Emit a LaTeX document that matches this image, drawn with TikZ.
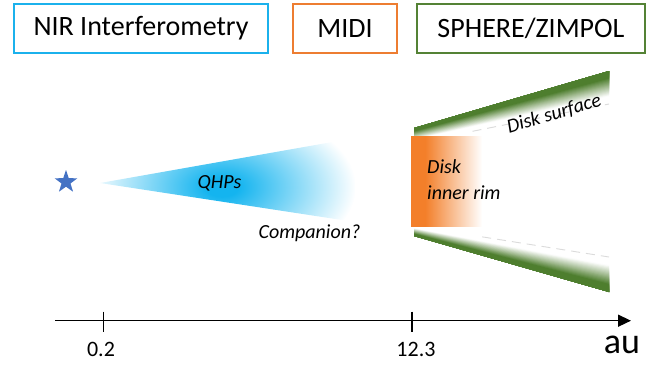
\documentclass[tikz,border=0pt]{standalone}
\usepackage{fontspec}
\setmainfont{Carlito}
\usetikzlibrary{arrows.meta,shapes.geometric,calc}
\definecolor{nircyan}{HTML}{1BB1EC}
\definecolor{midiorange}{HTML}{ED7D31}
\definecolor{spheregreen}{HTML}{548235}
\definecolor{qcyan}{HTML}{14B4EF}
\definecolor{rimorange}{HTML}{F37F2A}
\definecolor{bandgreen}{HTML}{4E7E2E}
\definecolor{starblue}{HTML}{4472C4}
\pgfdeclareradialshading{qhpshade}{\pgfpoint{0bp}{0bp}}{color(0bp)=(qcyan); color(3bp)=(qcyan); color(25bp)=(white); color(50bp)=(white)}
\pgfdeclarehorizontalshading{rimshade}{100bp}{color(0bp)=(rimorange); color(35bp)=(rimorange); color(75bp)=(white); color(100bp)=(white)}
\tikzset{
  instbox/.style={draw=#1, line width=2pt, minimum height=49pt, inner sep=0pt, font=\fontsize{28}{34}\selectfont},
  itlabel/.style={font=\fontsize{20}{24}\selectfont\itshape, inner sep=0pt},
  axlabel/.style={font=\fontsize{22}{26}\selectfont, inner sep=0pt},
  axisline/.style={line width=1.5pt, -{Triangle[length=13pt,width=12pt]}},
  tickline/.style={line width=1.2pt},
  fadeedge/.style={gray!28, line width=0.9pt, dash pattern=on 9pt off 6pt}
}
\begin{document}
\begin{tikzpicture}[x=1pt,y=-1pt]
\useasboundingbox (0,0) rectangle (665,365);
% instrument boxes
\node[instbox=nircyan, minimum width=254pt] (nir) at (141,28.5) {NIR Interferometry};
\node[instbox=midiorange, minimum width=104pt] (midi) at (345,28.5) {MIDI};
\node[instbox=spheregreen, minimum width=228pt] (sphere) at (531,28.5) {SPHERE/ZIMPOL};
% star
\node[star, star points=5, star point ratio=2.55, fill=starblue, minimum size=24pt, inner sep=0pt] (star) at (66,182) {};
% QHP cone
\coordinate (qtip) at (100,183);
\coordinate (qtop) at (355,138);
\coordinate (qbot) at (355,222);
\begin{scope}
  \clip (qtip) -- (qtop) -- (qbot) -- cycle;
  \shade[shading=qhpshade] (222,187) ellipse (134 and 80);
\end{scope}
\node[itlabel, anchor=base] (qhps) at (219.5,188) {QHPs};
\node[itlabel, anchor=base] (comp) at (309.5,238.3) {Companion?};
% disk bands
\coordinate (uTL) at (414,128);
\coordinate (uTR) at (609,71);
\coordinate (uBL) at (414,143);
\coordinate (uBR) at (609,104);
\coordinate (lBL) at (414,236);
\coordinate (lBR) at (609,292);
\coordinate (lTL) at (414,226);
\coordinate (lTR) at (609,257);
\foreach \k in {30,29,...,1}{
  \pgfmathsetmacro\t{\k/30}
  \pgfmathtruncatemacro\p{max(0,min(100,100*(0.78-\t)/0.55))}
  \fill[bandgreen!\p!white] (uTL) -- (uTR) -- ($(uTR)!\t!(uBR)$) -- ($(uTL)!\t!(uBL)$) -- cycle;
  \fill[bandgreen!\p!white] (lBL) -- (lBR) -- ($(lBR)!\t!(lTR)$) -- ($(lBL)!\t!(lTL)$) -- cycle;
}
\draw[fadeedge] ($(uBL)!0.3!(uBR)$) -- (uBR);
\draw[fadeedge] ($(lTL)!0.35!(lTR)$) -- (lTR);
% inner rim
\shade[shading=rimshade] (411,136) rectangle (482,226);
\node[itlabel, anchor=base west] (rimA) at (427,173) {Disk};
\node[itlabel, anchor=base west] (rimB) at (427,199) {inner rim};
\node[itlabel, rotate=16.5] (surf) at (554,114) {Disk surface};
% axis
\coordinate (axL) at (55,320.7);
\coordinate (axR) at (631,320.7);
\draw[axisline] (axL) -- (axR);
\coordinate (tk1) at (103.5,320.7);
\coordinate (tk2) at (412,320.7);
\draw[tickline] (tk1) ++(0,-9) -- ++(0,20);
\draw[tickline] (tk2) ++(0,-9) -- ++(0,20);
\node[axlabel, anchor=base] (l1) at (101,356) {0.2};
\node[axlabel, anchor=base] (l2) at (416,356) {12.3};
\node[font=\fontsize{36}{40}\selectfont, inner sep=0pt, anchor=base] (au) at (622,353) {au};
\end{tikzpicture}
\end{document}
